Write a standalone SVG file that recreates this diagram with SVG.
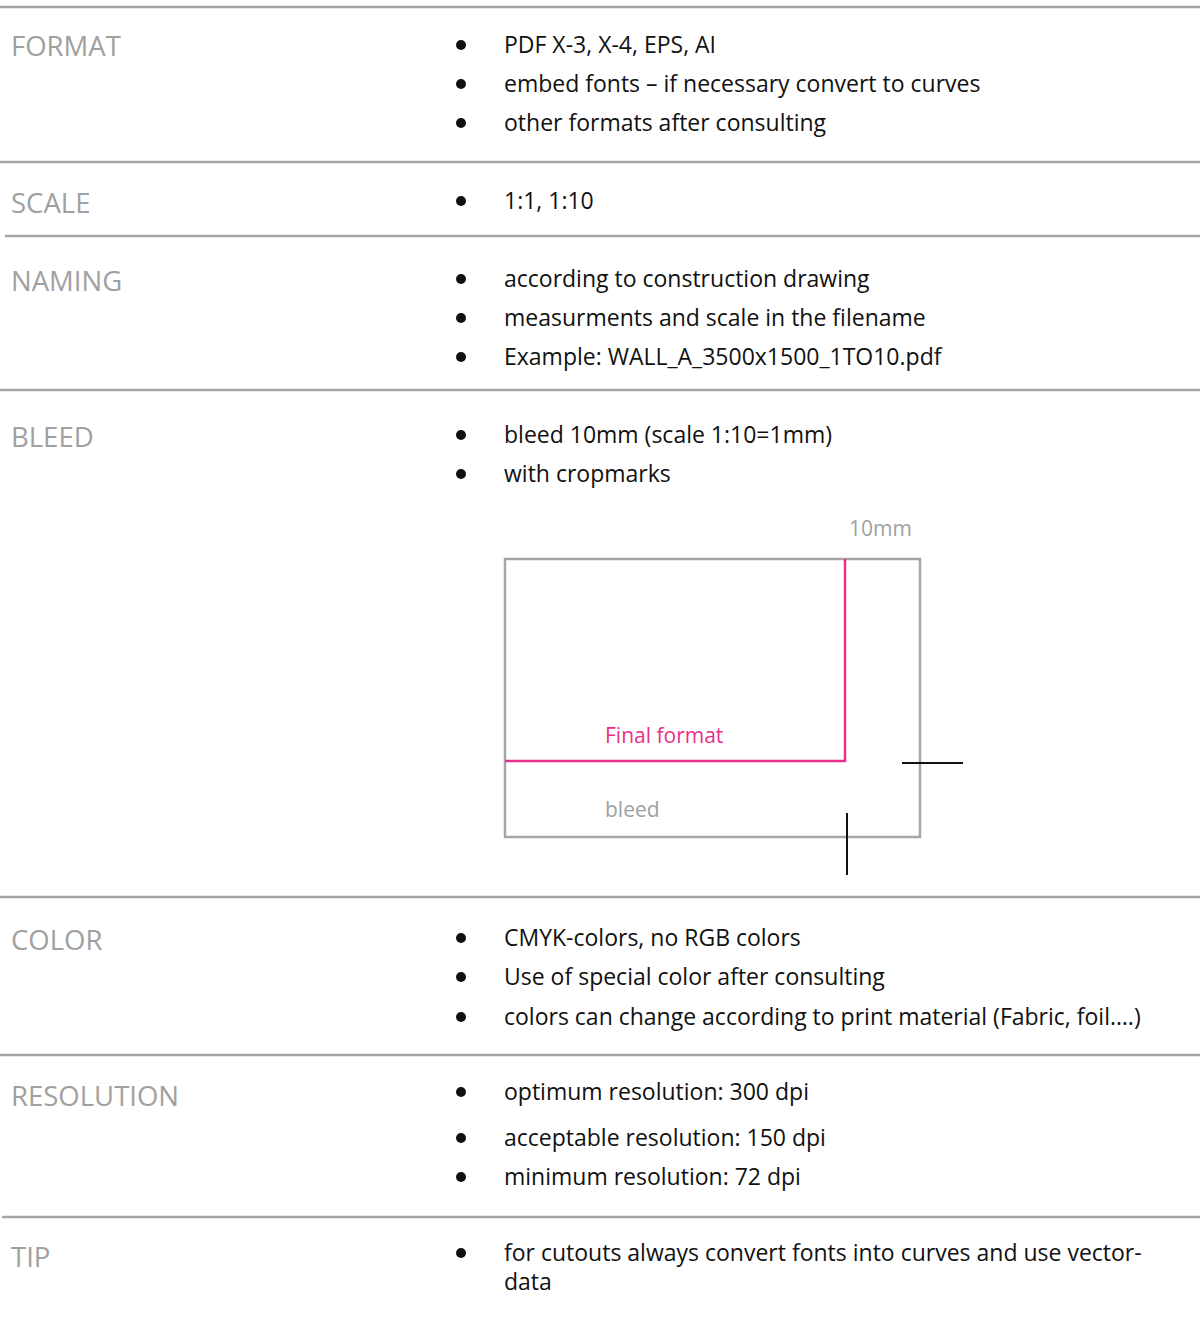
<svg xmlns="http://www.w3.org/2000/svg" width="1200" height="1319" viewBox="0 0 1200 1319">
<style>
.rule{stroke:#a6a6a6;stroke-width:2.5;fill:none}
.lbl{font-family:"Open Sans","Noto Sans",sans-serif;font-size:27.5px;fill:#a0a0a0}
.txt{font-family:"Open Sans","Noto Sans",sans-serif;font-size:23px;fill:#111}
.bul{fill:#111}
.small{font-family:"Open Sans","Noto Sans",sans-serif;font-size:21px}
</style>
<rect width="1200" height="1319" fill="#fff"/>
<g id="rules">
<line class="rule" x1="0" y1="7" x2="1200" y2="7"/>
<line class="rule" x1="0" y1="162" x2="1200" y2="162"/>
<line class="rule" x1="5" y1="236" x2="1200" y2="236"/>
<line class="rule" x1="0" y1="390" x2="1200" y2="390"/>
<line class="rule" x1="0" y1="897" x2="1200" y2="897"/>
<line class="rule" x1="0" y1="1055" x2="1200" y2="1055"/>
<line class="rule" x1="2" y1="1217" x2="1200" y2="1217"/>
</g>
<g id="format">
<text class="lbl" x="11" y="56">FORMAT</text>
<circle class="bul" cx="461" cy="45" r="5"/><text class="txt" x="504" y="53">PDF X-3, X-4, EPS, AI</text>
<circle class="bul" cx="461" cy="84" r="5"/><text class="txt" x="504" y="92">embed fonts – if necessary convert to curves</text>
<circle class="bul" cx="461" cy="123" r="5"/><text class="txt" x="504" y="131">other formats after consulting</text>
</g>
<g id="scale">
<text class="lbl" x="11" y="213">SCALE</text>
<circle class="bul" cx="461" cy="201" r="5"/><text class="txt" x="504" y="209">1:1, 1:10</text>
</g>
<g id="naming">
<text class="lbl" x="11" y="291">NAMING</text>
<circle class="bul" cx="461" cy="279" r="5"/><text class="txt" x="504" y="287">according to construction drawing</text>
<circle class="bul" cx="461" cy="318" r="5"/><text class="txt" x="504" y="326">measurments and scale in the filename</text>
<circle class="bul" cx="461" cy="357" r="5"/><text class="txt" x="504" y="365">Example: WALL_A_3500x1500_1TO10.pdf</text>
</g>
<g id="bleed">
<text class="lbl" x="11" y="447">BLEED</text>
<circle class="bul" cx="461" cy="435" r="5"/><text class="txt" x="504" y="443">bleed 10mm (scale 1:10=1mm)</text>
<circle class="bul" cx="461" cy="474" r="5"/><text class="txt" x="504" y="482">with cropmarks</text>
</g>
<g id="bleed-diagram">
<text class="small" x="849" y="536" fill="#a0a0a0">10mm</text>
<rect x="505" y="559" width="415" height="278" fill="none" stroke="#a6a6a6" stroke-width="2.5"/>
<polyline points="505,761 845,761 845,559" fill="none" stroke="#e8308a" stroke-width="2.5"/>
<text class="small" x="605" y="743" fill="#e8308a">Final format</text>
<text class="small" x="605" y="817" fill="#a0a0a0">bleed</text>
<line x1="902" y1="763" x2="963" y2="763" stroke="#111" stroke-width="2"/>
<line x1="847" y1="813" x2="847" y2="875" stroke="#111" stroke-width="2"/>
</g>
<g id="color">
<text class="lbl" x="11" y="950">COLOR</text>
<circle class="bul" cx="461" cy="938" r="5"/><text class="txt" x="504" y="946">CMYK-colors, no RGB colors</text>
<circle class="bul" cx="461" cy="977" r="5"/><text class="txt" x="504" y="985">Use of special color after consulting</text>
<circle class="bul" cx="461" cy="1017" r="5"/><text class="txt" x="504" y="1025">colors can change according to print material (Fabric, foil….)</text>
</g>
<g id="resolution">
<text class="lbl" x="11" y="1106">RESOLUTION</text>
<circle class="bul" cx="461" cy="1092" r="5"/><text class="txt" x="504" y="1100">optimum resolution: 300 dpi</text>
<circle class="bul" cx="461" cy="1138" r="5"/><text class="txt" x="504" y="1146">acceptable resolution: 150 dpi</text>
<circle class="bul" cx="461" cy="1177" r="5"/><text class="txt" x="504" y="1185">minimum resolution: 72 dpi</text>
</g>
<g id="tip">
<text class="lbl" x="11" y="1267">TIP</text>
<circle class="bul" cx="461" cy="1253" r="5"/><text class="txt" x="504" y="1261">for cutouts always convert fonts into curves and use vector-</text>
<text class="txt" x="504" y="1290">data</text>
</g>
</svg>
